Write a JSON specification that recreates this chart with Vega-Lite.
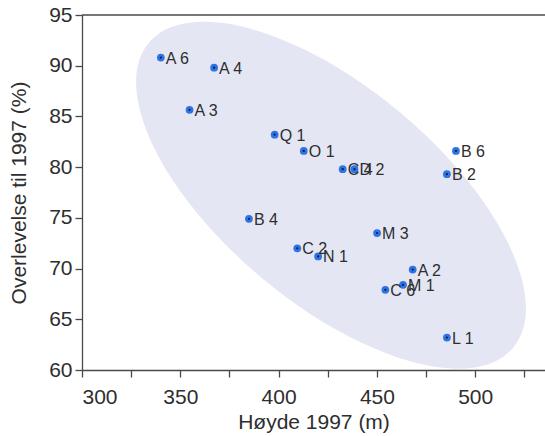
{
  "$schema": "https://vega.github.io/schema/vega-lite/v6.json",
  "autosize": {"type": "none"},
  "padding": {"left": 82, "top": 15, "right": 0, "bottom": 66},
  "width": 463,
  "height": 355,
  "background": "white",
  "config": {
    "view": {"stroke": null},
    "font": "Liberation Sans",
    "axis": {
      "grid": false,
      "domainColor": "#4a4a4a",
      "tickColor": "#4a4a4a",
      "labelColor": "#2e2e2e",
      "titleColor": "#2e2e2e",
      "labelFont": "Liberation Sans",
      "titleFont": "Liberation Sans",
      "labelFontSize": 21,
      "titleFontSize": 21,
      "titleFontWeight": "normal",
      "tickSize": 7,
      "domainWidth": 1.3,
      "tickWidth": 1.3
    }
  },
  "datasets": {
    "points": [
      {"x": 340.1, "y": 90.8, "label": "A 6"},
      {"x": 367.2, "y": 89.8, "label": "A 4"},
      {"x": 354.7, "y": 85.65, "label": "A 3"},
      {"x": 398.0, "y": 83.2, "label": "Q 1"},
      {"x": 412.8, "y": 81.6, "label": "O 1"},
      {"x": 432.6, "y": 79.8, "label": "C 4"},
      {"x": 438.6, "y": 79.8, "label": "D 2"},
      {"x": 490.2, "y": 81.6, "label": "B 6"},
      {"x": 485.6, "y": 79.3, "label": "B 2"},
      {"x": 384.9, "y": 74.9, "label": "B 4"},
      {"x": 450.1, "y": 73.5, "label": "M 3"},
      {"x": 409.5, "y": 72.0, "label": "C 2"},
      {"x": 420.1, "y": 71.2, "label": "N 1"},
      {"x": 468.2, "y": 69.9, "label": "A 2"},
      {"x": 463.3, "y": 68.4, "label": "M 1"},
      {"x": 454.3, "y": 67.9, "label": "C 6"},
      {"x": 485.6, "y": 63.2, "label": "L 1"}
    ],
    "ellipse": [
      {"i": 0, "x": 519.3, "y": 62.2},
      {"i": 1, "x": 507.1, "y": 60.59},
      {"i": 2, "x": 489.3, "y": 60.13},
      {"i": 3, "x": 467.3, "y": 60.83},
      {"i": 4, "x": 442.5, "y": 62.65},
      {"i": 5, "x": 416.7, "y": 65.45},
      {"i": 6, "x": 391.5, "y": 69.07},
      {"i": 7, "x": 368.7, "y": 73.23},
      {"i": 8, "x": 349.8, "y": 77.68},
      {"i": 9, "x": 336.2, "y": 82.09},
      {"i": 10, "x": 328.8, "y": 86.17},
      {"i": 11, "x": 328.0, "y": 89.63},
      {"i": 12, "x": 334.0, "y": 92.26},
      {"i": 13, "x": 346.2, "y": 93.87},
      {"i": 14, "x": 364.0, "y": 94.33},
      {"i": 15, "x": 386.0, "y": 93.63},
      {"i": 16, "x": 410.8, "y": 91.81},
      {"i": 17, "x": 436.6, "y": 89.0},
      {"i": 18, "x": 461.8, "y": 85.39},
      {"i": 19, "x": 484.6, "y": 81.23},
      {"i": 20, "x": 503.5, "y": 76.78},
      {"i": 21, "x": 517.1, "y": 72.37},
      {"i": 22, "x": 524.5, "y": 68.29},
      {"i": 23, "x": 525.3, "y": 64.82}
    ],
    "frame": [{"y": 95}]
  },
  "encoding": {
    "x": {
      "field": "x", "type": "quantitative",
      "scale": {"domain": [300, 535.5], "nice": false, "zero": false},
      "axis": {
        "title": "Høyde 1997 (m)",
        "values": [300, 325, 350, 375, 400, 425, 450, 475, 500, 525],
        "labelExpr": "datum.value % 50 == 0 ? datum.label : ''",
        "labelPadding": 9,
        "titlePadding": 4
      }
    },
    "y": {
      "field": "y", "type": "quantitative",
      "scale": {"domain": [60, 95], "nice": false, "zero": false},
      "axis": {
        "title": "Overlevelse til 1997 (%)",
        "values": [60, 65, 70, 75, 80, 85, 90, 95],
        "labelPadding": 3,
        "titlePadding": 19
      }
    }
  },
  "layer": [
    {
      "data": {"name": "ellipse"},
      "mark": {"type": "line", "interpolate": "cardinal-closed", "fill": "#e4e6f3", "strokeWidth": 0, "stroke": "#e4e6f3"},
      "encoding": {"order": {"field": "i", "type": "quantitative"}}
    },
    {
      "data": {"name": "frame"},
      "mark": {"type": "rule", "color": "#4a4a4a", "strokeWidth": 1.3},
      "encoding": {"y": {"field": "y", "type": "quantitative"}, "x": null}
    },
    {
      "data": {"name": "points"},
      "mark": {"type": "circle", "size": 60, "color": "#2d74e6", "opacity": 1},
      "encoding": {}
    },
    {
      "data": {"name": "points"},
      "mark": {"type": "circle", "size": 5, "color": "#0d1b40", "opacity": 1},
      "encoding": {}
    },
    {
      "data": {"name": "points"},
      "mark": {"type": "text", "align": "left", "baseline": "middle", "dx": 5, "dy": 1, "fontSize": 16, "font": "Liberation Sans", "color": "#2e2e2e"},
      "encoding": {"text": {"field": "label"}}
    }
  ]
}
